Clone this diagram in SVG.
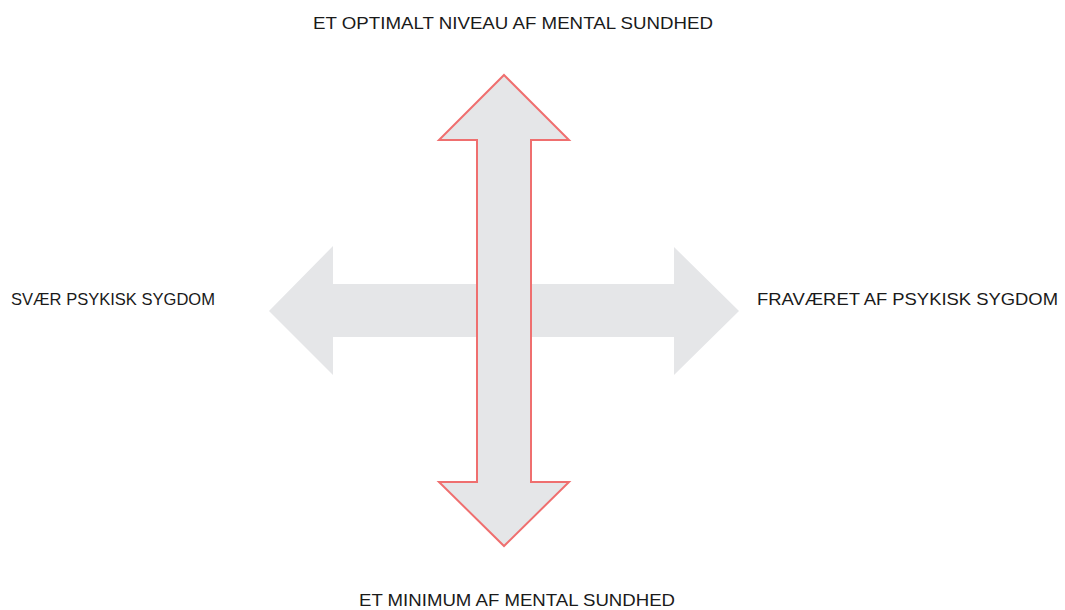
<svg xmlns="http://www.w3.org/2000/svg" width="1065" height="610" viewBox="0 0 1065 610">
<style>
.lbl{font-family:"Liberation Sans",Arial,sans-serif;font-size:17px;fill:#1a1a1a}
.arrow{fill:#e5e6e8}
.vert{fill:#e5e6e8;stroke:#ef6f6f;stroke-width:2;stroke-linejoin:miter}
</style>
<rect width="1065" height="610" fill="#ffffff"/>
<g id="connectors">
<polygon id="horizontal-arrow" class="arrow" points="269,311 333,246 333,284 674,284 674,247 739,311 674,375 674,337 333,337 333,375"/>
<polygon id="vertical-arrow" class="vert" points="504,75 569,140 531,140 531,482 569,482 504,546 439,482 477,482 477,140 439,140"/>
</g>
<g id="node-top"><text class="lbl" x="313" y="29" textLength="400" lengthAdjust="spacingAndGlyphs">ET OPTIMALT NIVEAU AF MENTAL SUNDHED</text></g>
<g id="node-left"><text class="lbl" x="11" y="305" textLength="204" lengthAdjust="spacingAndGlyphs">SVÆR PSYKISK SYGDOM</text></g>
<g id="node-right"><text class="lbl" x="757" y="305" textLength="301" lengthAdjust="spacingAndGlyphs">FRAVÆRET AF PSYKISK SYGDOM</text></g>
<g id="node-bottom"><text class="lbl" x="359" y="606" textLength="316" lengthAdjust="spacingAndGlyphs">ET MINIMUM AF MENTAL SUNDHED</text></g>
</svg>
